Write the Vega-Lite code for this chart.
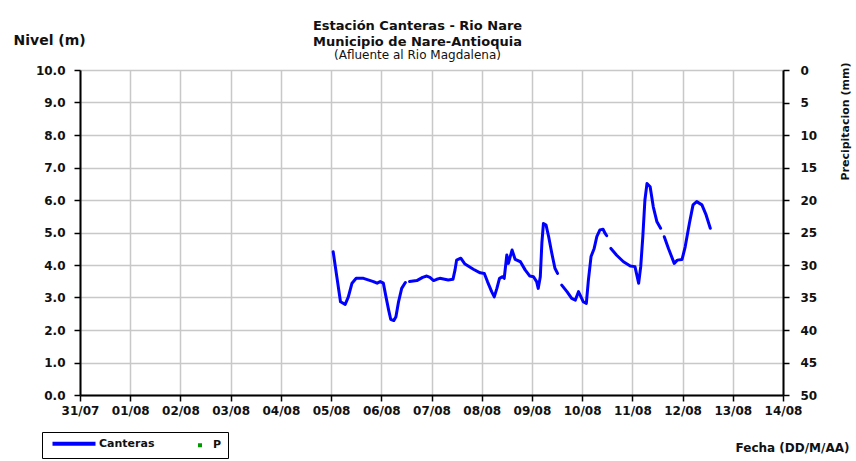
{
  "$schema": "https://vega.github.io/schema/vega-lite/v6.json",
  "autosize": {"type": "none"},
  "width": 703,
  "height": 325,
  "padding": {"left": 80, "top": 70, "right": 73, "bottom": 66},
  "background": "white",
  "title": {
    "text": ["Estación Canteras - Rio Nare", "Municipio de Nare-Antioquia"],
    "subtitle": "(Afluente al Rio Magdalena)",
    "anchor": "middle",
    "dx": -14,
    "offset": -28,
    "font": "DejaVu Sans",
    "fontSize": 13,
    "fontWeight": "bold",
    "color": "#111111",
    "lineHeight": 16,
    "subtitleFont": "DejaVu Sans",
    "subtitleFontSize": 12,
    "subtitleColor": "#111111",
    "subtitlePadding": 1
  },
  "config": {
    "view": {"stroke": null},
    "axis": {
      "labelFont": "DejaVu Sans",
      "labelFontWeight": "bold",
      "labelFontSize": 12,
      "labelColor": "#111111",
      "titleFont": "DejaVu Sans",
      "titleFontWeight": "bold",
      "titleFontSize": 12,
      "titleColor": "#111111",
      "domainColor": "#000000",
      "domainWidth": 2,
      "tickColor": "#000000",
      "tickWidth": 1.5,
      "tickSize": 6,
      "gridColor": "#c8c8c8",
      "gridWidth": 1.5,
      "labelOverlap": false,
      "labelFlush": false
    }
  },
  "layer": [
    {
      "data": {
        "values": [
          {"fecha": "2011-08-05T01:00", "serie": "Canteras", "nivel": 4.41},
          {"fecha": "2011-08-05T02:45", "serie": "Canteras", "nivel": 3.64},
          {"fecha": "2011-08-05T04:30", "serie": "Canteras", "nivel": 2.87},
          {"fecha": "2011-08-05T06:45", "serie": "Canteras", "nivel": 2.79},
          {"fecha": "2011-08-05T08:15", "serie": "Canteras", "nivel": 3.02},
          {"fecha": "2011-08-05T10:00", "serie": "Canteras", "nivel": 3.44},
          {"fecha": "2011-08-05T12:00", "serie": "Canteras", "nivel": 3.59},
          {"fecha": "2011-08-05T15:30", "serie": "Canteras", "nivel": 3.59},
          {"fecha": "2011-08-05T20:15", "serie": "Canteras", "nivel": 3.49},
          {"fecha": "2011-08-05T22:00", "serie": "Canteras", "nivel": 3.44},
          {"fecha": "2011-08-05T23:30", "serie": "Canteras", "nivel": 3.49},
          {"fecha": "2011-08-06T01:00", "serie": "Canteras", "nivel": 3.44},
          {"fecha": "2011-08-06T02:15", "serie": "Canteras", "nivel": 3.02},
          {"fecha": "2011-08-06T03:30", "serie": "Canteras", "nivel": 2.62},
          {"fecha": "2011-08-06T04:30", "serie": "Canteras", "nivel": 2.33},
          {"fecha": "2011-08-06T06:00", "serie": "Canteras", "nivel": 2.29},
          {"fecha": "2011-08-06T07:00", "serie": "Canteras", "nivel": 2.41},
          {"fecha": "2011-08-06T08:15", "serie": "Canteras", "nivel": 2.87},
          {"fecha": "2011-08-06T09:45", "serie": "Canteras", "nivel": 3.28},
          {"fecha": "2011-08-06T11:30", "serie": "Canteras", "nivel": 3.46},
          {"fecha": "2011-08-06T12:30", "serie": "Canteras", "nivel": null},
          {"fecha": "2011-08-06T13:30", "serie": "Canteras", "nivel": 3.49},
          {"fecha": "2011-08-06T17:00", "serie": "Canteras", "nivel": 3.52},
          {"fecha": "2011-08-06T19:45", "serie": "Canteras", "nivel": 3.62},
          {"fecha": "2011-08-06T21:45", "serie": "Canteras", "nivel": 3.66},
          {"fecha": "2011-08-06T23:15", "serie": "Canteras", "nivel": 3.62},
          {"fecha": "2011-08-07T01:00", "serie": "Canteras", "nivel": 3.52},
          {"fecha": "2011-08-07T02:30", "serie": "Canteras", "nivel": 3.56},
          {"fecha": "2011-08-07T04:00", "serie": "Canteras", "nivel": 3.59},
          {"fecha": "2011-08-07T08:00", "serie": "Canteras", "nivel": 3.54},
          {"fecha": "2011-08-07T10:15", "serie": "Canteras", "nivel": 3.56},
          {"fecha": "2011-08-07T11:15", "serie": "Canteras", "nivel": 3.85},
          {"fecha": "2011-08-07T12:00", "serie": "Canteras", "nivel": 4.15},
          {"fecha": "2011-08-07T14:00", "serie": "Canteras", "nivel": 4.21},
          {"fecha": "2011-08-07T16:00", "serie": "Canteras", "nivel": 4.03},
          {"fecha": "2011-08-07T20:00", "serie": "Canteras", "nivel": 3.87},
          {"fecha": "2011-08-07T23:15", "serie": "Canteras", "nivel": 3.76},
          {"fecha": "2011-08-08T01:15", "serie": "Canteras", "nivel": 3.74},
          {"fecha": "2011-08-08T02:45", "serie": "Canteras", "nivel": 3.49},
          {"fecha": "2011-08-08T04:45", "serie": "Canteras", "nivel": 3.18},
          {"fecha": "2011-08-08T06:00", "serie": "Canteras", "nivel": 3.02},
          {"fecha": "2011-08-08T07:15", "serie": "Canteras", "nivel": 3.28},
          {"fecha": "2011-08-08T08:30", "serie": "Canteras", "nivel": 3.59},
          {"fecha": "2011-08-08T10:00", "serie": "Canteras", "nivel": 3.64},
          {"fecha": "2011-08-08T10:45", "serie": "Canteras", "nivel": 3.59},
          {"fecha": "2011-08-08T12:00", "serie": "Canteras", "nivel": 4.31},
          {"fecha": "2011-08-08T12:45", "serie": "Canteras", "nivel": 4.05},
          {"fecha": "2011-08-08T14:30", "serie": "Canteras", "nivel": 4.46},
          {"fecha": "2011-08-08T16:00", "serie": "Canteras", "nivel": 4.17},
          {"fecha": "2011-08-08T18:30", "serie": "Canteras", "nivel": 4.10},
          {"fecha": "2011-08-08T20:45", "serie": "Canteras", "nivel": 3.85},
          {"fecha": "2011-08-08T23:00", "serie": "Canteras", "nivel": 3.66},
          {"fecha": "2011-08-09T00:45", "serie": "Canteras", "nivel": 3.64},
          {"fecha": "2011-08-09T02:15", "serie": "Canteras", "nivel": 3.49},
          {"fecha": "2011-08-09T03:00", "serie": "Canteras", "nivel": 3.28},
          {"fecha": "2011-08-09T04:00", "serie": "Canteras", "nivel": 3.64},
          {"fecha": "2011-08-09T04:45", "serie": "Canteras", "nivel": 4.67},
          {"fecha": "2011-08-09T05:30", "serie": "Canteras", "nivel": 5.28},
          {"fecha": "2011-08-09T06:45", "serie": "Canteras", "nivel": 5.23},
          {"fecha": "2011-08-09T08:00", "serie": "Canteras", "nivel": 4.87},
          {"fecha": "2011-08-09T09:30", "serie": "Canteras", "nivel": 4.36},
          {"fecha": "2011-08-09T11:00", "serie": "Canteras", "nivel": 3.90},
          {"fecha": "2011-08-09T12:15", "serie": "Canteras", "nivel": 3.74},
          {"fecha": "2011-08-09T13:15", "serie": "Canteras", "nivel": null},
          {"fecha": "2011-08-09T14:15", "serie": "Canteras", "nivel": 3.38},
          {"fecha": "2011-08-09T16:45", "serie": "Canteras", "nivel": 3.18},
          {"fecha": "2011-08-09T19:00", "serie": "Canteras", "nivel": 2.97},
          {"fecha": "2011-08-09T20:45", "serie": "Canteras", "nivel": 2.92},
          {"fecha": "2011-08-09T22:15", "serie": "Canteras", "nivel": 3.18},
          {"fecha": "2011-08-09T23:00", "serie": "Canteras", "nivel": 3.08},
          {"fecha": "2011-08-10T00:30", "serie": "Canteras", "nivel": 2.87},
          {"fecha": "2011-08-10T02:00", "serie": "Canteras", "nivel": 2.82},
          {"fecha": "2011-08-10T03:00", "serie": "Canteras", "nivel": 3.54},
          {"fecha": "2011-08-10T04:15", "serie": "Canteras", "nivel": 4.26},
          {"fecha": "2011-08-10T05:45", "serie": "Canteras", "nivel": 4.51},
          {"fecha": "2011-08-10T07:00", "serie": "Canteras", "nivel": 4.87},
          {"fecha": "2011-08-10T08:30", "serie": "Canteras", "nivel": 5.08},
          {"fecha": "2011-08-10T10:00", "serie": "Canteras", "nivel": 5.10},
          {"fecha": "2011-08-10T11:00", "serie": "Canteras", "nivel": 4.97},
          {"fecha": "2011-08-10T11:45", "serie": "Canteras", "nivel": 4.90},
          {"fecha": "2011-08-10T12:45", "serie": "Canteras", "nivel": null},
          {"fecha": "2011-08-10T13:45", "serie": "Canteras", "nivel": 4.51},
          {"fecha": "2011-08-10T16:30", "serie": "Canteras", "nivel": 4.30},
          {"fecha": "2011-08-10T19:45", "serie": "Canteras", "nivel": 4.10},
          {"fecha": "2011-08-10T23:00", "serie": "Canteras", "nivel": 3.97},
          {"fecha": "2011-08-11T01:15", "serie": "Canteras", "nivel": 3.95},
          {"fecha": "2011-08-11T03:00", "serie": "Canteras", "nivel": 3.44},
          {"fecha": "2011-08-11T04:00", "serie": "Canteras", "nivel": 3.95},
          {"fecha": "2011-08-11T05:00", "serie": "Canteras", "nivel": 4.87},
          {"fecha": "2011-08-11T06:00", "serie": "Canteras", "nivel": 6.00},
          {"fecha": "2011-08-11T07:00", "serie": "Canteras", "nivel": 6.51},
          {"fecha": "2011-08-11T08:30", "serie": "Canteras", "nivel": 6.41},
          {"fecha": "2011-08-11T10:00", "serie": "Canteras", "nivel": 5.79},
          {"fecha": "2011-08-11T11:45", "serie": "Canteras", "nivel": 5.33},
          {"fecha": "2011-08-11T13:30", "serie": "Canteras", "nivel": 5.13},
          {"fecha": "2011-08-11T14:30", "serie": "Canteras", "nivel": null},
          {"fecha": "2011-08-11T15:15", "serie": "Canteras", "nivel": 4.87},
          {"fecha": "2011-08-11T17:15", "serie": "Canteras", "nivel": 4.51},
          {"fecha": "2011-08-11T20:00", "serie": "Canteras", "nivel": 4.05},
          {"fecha": "2011-08-11T21:30", "serie": "Canteras", "nivel": 4.15},
          {"fecha": "2011-08-11T23:45", "serie": "Canteras", "nivel": 4.17},
          {"fecha": "2011-08-12T01:15", "serie": "Canteras", "nivel": 4.56},
          {"fecha": "2011-08-12T03:15", "serie": "Canteras", "nivel": 5.28},
          {"fecha": "2011-08-12T05:00", "serie": "Canteras", "nivel": 5.85},
          {"fecha": "2011-08-12T06:45", "serie": "Canteras", "nivel": 5.95},
          {"fecha": "2011-08-12T09:15", "serie": "Canteras", "nivel": 5.85},
          {"fecha": "2011-08-12T11:15", "serie": "Canteras", "nivel": 5.54},
          {"fecha": "2011-08-12T13:15", "serie": "Canteras", "nivel": 5.13}
        ]
      },
      "mark": {"type": "line", "strokeWidth": 3, "strokeJoin": "round", "strokeCap": "round"},
      "encoding": {
        "x": {
          "field": "fecha",
          "type": "temporal",
          "scale": {"domain": [{"year": 2011, "month": 7, "date": 31}, {"year": 2011, "month": 8, "date": 14}], "nice": false},
          "axis": {
            "tickCount": {"interval": "day", "step": 1},
            "format": "%d/%m",
            "grid": true,
            "labelPadding": 4,
            "title": "Fecha (DD/M/AA)",
            "titleX": 712,
            "titleY": 52,
            "titleAlign": "center",
            "titleBaseline": "middle",
            "titleFontSize": 12
          }
        },
        "y": {
          "field": "nivel",
          "type": "quantitative",
          "scale": {"domain": [0, 10], "nice": false},
          "axis": {
            "values": [0, 1, 2, 3, 4, 5, 6, 7, 8, 9, 10],
            "format": ".1f",
            "grid": true,
            "labelPadding": 9,
            "title": "Nivel (m)",
            "titleAngle": 0,
            "titleX": -67,
            "titleY": -30,
            "titleAlign": "left",
            "titleBaseline": "middle",
            "titleFontSize": 14
          }
        },
        "color": {
          "field": "serie",
          "type": "nominal",
          "scale": {"domain": ["Canteras", "P"], "range": ["#0000ff", "#009900"]},
          "legend": {
            "title": null,
            "orient": "none",
            "legendX": -38,
            "legendY": 362,
            "direction": "horizontal",
            "strokeColor": "#000000",
            "padding": 6,
            "labelFont": "DejaVu Sans",
            "labelFontWeight": "bold",
            "labelFontSize": 11,
            "labelColor": "#111111",
            "labelOffset": 3,
            "columnPadding": 40,
            "encode": {
              "symbols": {
                "update": {
                  "shape": {"signal": "datum.value === 'Canteras' ? 'stroke' : 'square'"},
                  "size": {"signal": "datum.value === 'Canteras' ? 1850 : 16"},
                  "x": {"signal": "datum.value === 'Canteras' ? 26 : 5"},
                  "fill": {"signal": "datum.value === 'Canteras' ? 'transparent' : '#009900'"},
                  "stroke": {"signal": "datum.value === 'Canteras' ? '#0000ff' : '#009900'"},
                  "strokeWidth": {"signal": "datum.value === 'Canteras' ? 4 : 0"}
                }
              },
              "labels": {
                "update": {
                  "dx": {"signal": "datum.value === 'Canteras' ? 37 : 4"}
                }
              }
            }
          }
        }
      }
    },
    {
      "data": {
        "values": [
          {"fecha": "2011-08-05T00:00", "serie": "P", "precip": null}
        ]
      },
      "mark": {"type": "point", "shape": "square", "filled": true, "size": 16},
      "encoding": {
        "x": {"field": "fecha", "type": "temporal"},
        "y": {
          "field": "precip",
          "type": "quantitative",
          "scale": {"domain": [0, 50], "reverse": true, "nice": false},
          "axis": {
            "orient": "right",
            "values": [0, 5, 10, 15, 20, 25, 30, 35, 40, 45, 50],
            "grid": false,
            "labelPadding": 11,
            "title": "Precipitacion (mm)",
            "titleAngle": 270,
            "titleX": 62,
            "titleY": -8,
            "titleAlign": "right",
            "titleBaseline": "middle",
            "titleFontSize": 11
          }
        },
        "color": {"field": "serie", "type": "nominal"}
      }
    }
  ],
  "resolve": {"scale": {"y": "independent"}}
}
